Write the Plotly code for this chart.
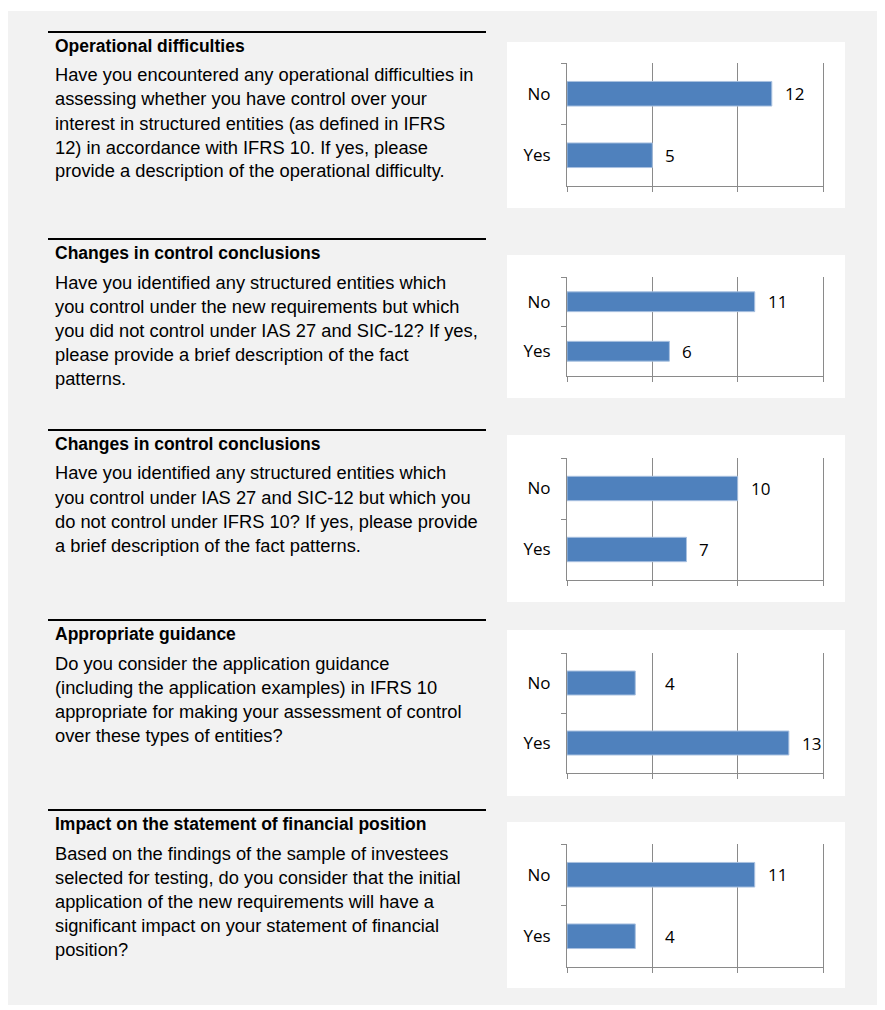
import plotly.graph_objects as go

# ---------------- data ----------------
titles = [
    "Operational difficulties",
    "Changes in control conclusions",
    "Changes in control conclusions",
    "Appropriate guidance",
    "Impact on the statement of financial position",
]
questions = [
    ["Have you encountered any operational difficulties in",
     "assessing whether you have control over your",
     "interest in structured entities (as defined in IFRS",
     "12) in accordance with IFRS 10. If yes, please",
     "provide a description of the operational difficulty."],
    ["Have you identified any structured entities which",
     "you control under the new requirements but which",
     "you did not control under IAS 27 and SIC-12? If yes,",
     "please provide a brief description of the fact",
     "patterns."],
    ["Have you identified any structured entities which",
     "you control under IAS 27 and SIC-12 but which you",
     "do not control under IFRS 10? If yes, please provide",
     "a brief description of the fact patterns."],
    ["Do you consider the application guidance",
     "(including the application examples) in IFRS 10",
     "appropriate for making your assessment of control",
     "over these types of entities?"],
    ["Based on the findings of the sample of investees",
     "selected for testing, do you consider that the initial",
     "application of the new requirements will have a",
     "significant impact on your statement of financial",
     "position?"],
]
categories = ["No", "Yes"]
no_counts = [12, 11, 10, 4, 11]
yes_counts = [5, 6, 7, 13, 4]
x_ticks = [0, 5, 10, 15]

# ---------------- layout geometry (pixels in the 885x1010 page) ----------------
OFF = 8                      # default body margin of the html page
W, H = 885 - OFF, 1010 - OFF
rule_y = [32, 239, 430, 620, 810]
chart_geo = [  # box_top, box_bottom, axis_top, axis_bottom
    (42, 208, 63, 186),
    (255, 398, 277, 376),
    (435, 602, 458, 580),
    (630, 796, 653, 773),
    (822, 988, 844, 967),
]
box_x0, box_x1 = 507, 845
ax_x0, ax_x1 = 567, 823

def px(x):
    return (x - OFF) / W

def py(y):
    return 1 - (y - OFF) / H

TEXT_FONT = "Liberation Sans, Arial, sans-serif"
CHART_FONT = "Open Sans, sans-serif"
GRID = "#8a8a8a"
BAR = "#4f81bd"

fig = go.Figure()
shapes = []
annotations = []

# gray panel
shapes.append(dict(type="rect", xref="paper", yref="paper",
                   x0=px(7), x1=px(880), y0=py(1005), y1=py(11),
                   fillcolor="#f2f2f2", line=dict(width=0), layer="below"))

for i in range(5):
    n = i + 1
    xa = "x" if n == 1 else f"x{n}"
    ya = "y" if n == 1 else f"y{n}"
    bt, bb, at, ab = chart_geo[i]

    # white chart box
    shapes.append(dict(type="rect", xref="paper", yref="paper",
                       x0=px(box_x0), x1=px(box_x1), y0=py(bb), y1=py(bt),
                       fillcolor="white", line=dict(width=0), layer="below"))
    # rule above title
    shapes.append(dict(type="line", xref="paper", yref="paper",
                       x0=px(48), x1=px(486), y0=py(rule_y[i]), y1=py(rule_y[i]),
                       line=dict(color="black", width=2)))
    # title
    annotations.append(dict(xref="paper", yref="paper", x=px(53), y=py(rule_y[i] + 14),
                            xanchor="left", yanchor="middle", showarrow=False,
                            text="<b>" + titles[i] + "</b>",
                            font=dict(family=TEXT_FONT, size=17.5, color="black")))
    # question lines
    for j, line in enumerate(questions[i]):
        annotations.append(dict(xref="paper", yref="paper", x=px(53),
                                y=py(rule_y[i] + 43 + 24 * j),
                                xanchor="left", yanchor="middle", showarrow=False,
                                text=line,
                                font=dict(family=TEXT_FONT, size=18.3, color="black")))

    values = [no_counts[i], yes_counts[i]]
    fig.add_trace(go.Bar(
        x=values, y=categories, orientation="h",
        xaxis=xa, yaxis=ya,
        marker=dict(color=BAR, line=dict(color="#a9c1e0", width=1)),
        showlegend=False, hoverinfo="x+y",
    ))
    for cat, v in zip(categories, values):
        # labels are kept clear of the first gridline, as in the original
        annotations.append(dict(xref=xa, yref=ya, x=max(v, x_ticks[1]), y=cat,
                                xanchor="left", yanchor="middle", xshift=11,
                                showarrow=False, text=str(v),
                                font=dict(family=CHART_FONT, size=17, color="black")))

    fig.layout[("xaxis" if n == 1 else f"xaxis{n}")] = dict(
        domain=[px(ax_x0), px(ax_x1)], anchor=ya, range=[0, 15],
        tickvals=x_ticks, showticklabels=False, ticks="outside", ticklen=5,
        tickcolor=GRID, showgrid=True, gridcolor=GRID, gridwidth=1,
        showline=True, linecolor=GRID, linewidth=1, zeroline=False,
        fixedrange=True)
    fig.layout[("yaxis" if n == 1 else f"yaxis{n}")] = dict(
        domain=[py(ab), py(at)], anchor=xa, type="category",
        categoryorder="array", categoryarray=categories, autorange="reversed",
        ticks="outside", tickson="boundaries", ticklen=5, tickcolor=GRID,
        showline=True, mirror=True, linecolor=GRID, linewidth=1, showgrid=False,
        zeroline=False, ticklabelstandoff=12,
        tickfont=dict(family=CHART_FONT, size=17, color="black"),
        fixedrange=True)

fig.update_layout(
    width=W, height=H,
    margin=dict(l=0, r=0, t=0, b=0),
    paper_bgcolor="white", plot_bgcolor="white",
    bargap=0.6,
    shapes=shapes, annotations=annotations,
)

fig.write_html("out.html")
